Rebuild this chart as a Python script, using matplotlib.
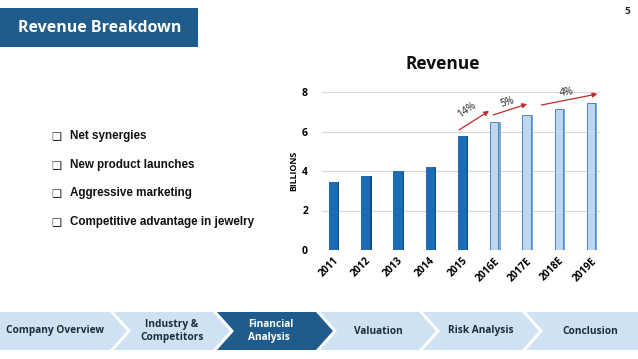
import matplotlib
matplotlib.use("Agg")
import matplotlib.pyplot as plt
from matplotlib.patches import Polygon, Rectangle

# data
years = ["2011", "2012", "2013", "2014", "2015", "2016E", "2017E", "2018E", "2019E"]
revenue = [3.45, 3.75, 4.0, 4.2, 5.75, 6.5, 6.85, 7.15, 7.45]
is_estimate = [False, False, False, False, False, True, True, True, True]
growth_labels = ["14%", "5%", "4%"]
y_ticks = [0, 2, 4, 6, 8]

bullets = ["Net synergies", "New product launches", "Aggressive marketing",
           "Competitive advantage in jewelry"]
nav_items = ["Company Overview", "Industry &\nCompetitors", "Financial\nAnalysis",
             "Valuation", "Risk Analysis", "Conclusion"]
active_nav = 2

W, H = 638, 359
DARK = "#1f5c8b"
NAVY_TXT = "#1c2b3f"

fig = plt.figure(figsize=(W / 100, H / 100), dpi=100)
fig.patch.set_facecolor("white")

# overlay in pixel coordinates for the slide furniture
bg = fig.add_axes([0, 0, 1, 1])
bg.set_xlim(0, W)
bg.set_ylim(H, 0)
bg.axis("off")

bg.add_patch(Rectangle((0, 8), 198, 39, color=DARK, lw=0))
bg.text(100, 28, "Revenue Breakdown", color="white", fontsize=11.5,
        fontweight="bold", family="Open Sans", ha="center", va="center")
bg.text(627, 11, "5", fontsize=6, fontweight="bold", color="#222222",
        ha="center", va="center")

for i, b in enumerate(bullets):
    y = 136 + i * 28.7
    bg.text(51, y, "\u2751", fontsize=8, family=["DejaVu Sans"], color="#222222",
            ha="left", va="center")
    bg.text(70, y, b, fontsize=8.4, fontweight="bold", family="Liberation Sans",
            color="#111111", ha="left", va="center")

# chevron navigation strip
y0, y1 = 312, 350
ym = (y0 + y1) / 2
d, gap = 17, 4
starts = [0, 114, 217, 320, 423, 526]
ends = starts[1:] + [W]
for i, (name, s, e) in enumerate(zip(nav_items, starts, ends)):
    last = i == len(nav_items) - 1
    right = [(e, y0), (e, y1)] if last else [(e - gap, y0), (e - gap + d, ym), (e - gap, y1)]
    left = [(s, y1), (s, y0)] if i == 0 else [(s, y1), (s + d, ym), (s, y0)]
    pts = right + left
    active = i == active_nav
    bg.add_patch(Polygon(pts, closed=True, lw=0,
                         color=DARK if active else "#cfe2f3"))
    if active:
        bg.text(s + 31, ym, name, fontsize=7.3, fontweight="bold", family="Open Sans",
                color="white", ha="left", va="center", linespacing=1.3)
    else:
        cx = (s + (d if i else 0) + (e if last else e - gap)) / 2
        bg.text(cx, ym, name, fontsize=7.3, fontweight="bold", family="Open Sans",
                color=NAVY_TXT, ha="center", va="center", linespacing=1.3)

bg.text(443, 64, "Revenue", fontsize=12.5, fontweight="bold", family="Open Sans",
        color="#111111", ha="center", va="center")

# revenue chart
ax = fig.add_axes([322 / W, 1 - 250 / H, (600 - 322) / W, (250 - 92) / H])
ax.set_xlim(-0.34, 8.28)
ax.set_ylim(0, 8)
x = list(range(len(years)))
front = ["#bdd7ee" if e else "#1b6bb5" for e in is_estimate]
side = ["#7fa9d4" if e else "#104c85" for e in is_estimate]
edge = ["#4a84bf" if e else "#1b6bb5" for e in is_estimate]
ax.bar([xi + 0.15 for xi in x], revenue, width=0.1, color=side, zorder=2)
ax.bar(x, revenue, width=0.26, color=front, edgecolor=edge, linewidth=0.7, zorder=3)

ax.set_yticks(y_ticks)
ax.set_yticklabels([str(t) for t in y_ticks], fontsize=7.5, fontweight="bold",
                   family="Open Sans")
ax.set_xticks(x)
ax.set_xticklabels(years, rotation=45, ha="right", rotation_mode="anchor",
                   fontsize=7.3, fontweight="bold", family="Open Sans")
ax.tick_params(length=0, pad=10, axis="y")
ax.tick_params(length=0, pad=4, axis="x")
ax.grid(axis="y", color="#d9d9d9", lw=0.8, zorder=0)
for sp in ax.spines.values():
    sp.set_visible(False)
ax.set_ylabel("BILLIONS", fontsize=6.3, fontweight="bold", family="Open Sans", labelpad=3)

red = "#c3282f"
arrows = [((3.91, 6.08), (4.84, 7.04), (4.16, 7.1), 35),
          ((4.97, 6.84), (6.02, 7.39), (5.4, 7.45), 18),
          ((6.46, 7.34), (8.2, 7.9), (7.24, 7.97), 8)]
for (start, end, lab, rot), g in zip(arrows, growth_labels):
    ax.annotate("", xy=end, xytext=start, annotation_clip=False,
                arrowprops=dict(arrowstyle="-|>", color=red, lw=0.9,
                                mutation_scale=7, shrinkA=0, shrinkB=0))
    ax.text(lab[0], lab[1], g, fontsize=7.3, rotation=rot, ha="center", va="center",
            family="Open Sans", color="#222222", clip_on=False)

fig.savefig("out.png", dpi=100)
